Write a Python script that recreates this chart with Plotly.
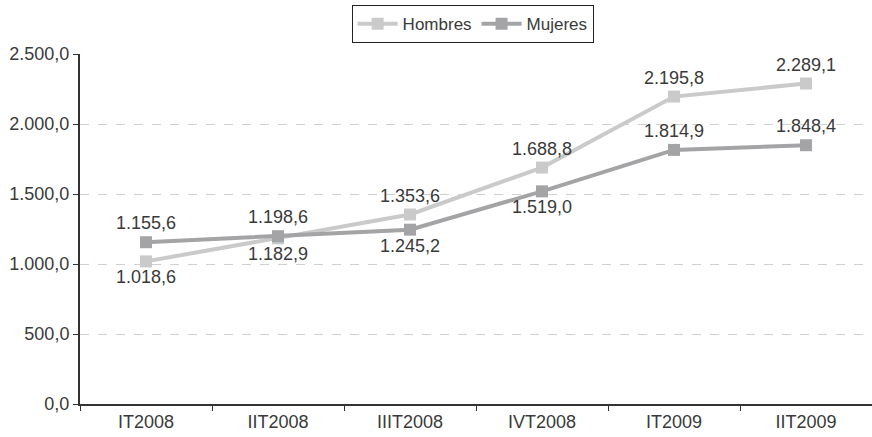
import plotly.graph_objects as go

# Quarterly periods and values per series
periods = ["IT2008", "IIT2008", "IIIT2008", "IVT2008", "IT2009", "IIT2009"]
hombres = [1018.6, 1182.9, 1353.6, 1688.8, 2195.8, 2289.1]
mujeres = [1155.6, 1198.6, 1245.2, 1519.0, 1814.9, 1848.4]

# Where each value label sits relative to its marker
hombres_pos = ["bottom center", "bottom center", "top center", "top center", "top center", "top center"]
mujeres_pos = ["top center", "top center", "bottom center", "bottom center", "top center", "top center"]

FONT = "Liberation Sans, Arial, sans-serif"
TEXT = "#3a3a3a"

fig = go.Figure()
fig.add_trace(go.Scatter(
    x=periods, y=hombres, name="Hombres", mode="lines+markers+text",
    line=dict(color="#cacaca", width=4),
    marker=dict(symbol="square", size=12, color="#cacaca"),
    texttemplate="%{y:,.1f}", textposition=hombres_pos,
    textfont=dict(size=18, color=TEXT, family=FONT),
))
fig.add_trace(go.Scatter(
    x=periods, y=mujeres, name="Mujeres", mode="lines+markers+text",
    line=dict(color="#a4a4a6", width=4),
    marker=dict(symbol="square", size=12, color="#a4a4a6"),
    texttemplate="%{y:,.1f}", textposition=mujeres_pos,
    textfont=dict(size=18, color=TEXT, family=FONT),
))

fig.update_layout(
    width=872, height=437,
    margin=dict(l=80, r=0, t=54, b=33),
    paper_bgcolor="white", plot_bgcolor="white",
    separators=",.",
    font=dict(family=FONT, size=18, color=TEXT),
    showlegend=True,
    legend=dict(
        orientation="h", x=0.542, xanchor="center", xref="container",
        y=0.988, yanchor="top", yref="container",
        bordercolor="#222222", borderwidth=1,
        font=dict(size=17, color=TEXT, family=FONT),
        itemwidth=40, tracegroupgap=0,
    ),
    xaxis=dict(
        showline=True, linecolor="#333333", linewidth=2,
        ticks="outside", tickson="boundaries", ticklen=5, tickcolor="#333333",
        showgrid=False, tickfont=dict(size=18, color=TEXT),
        range=[-0.5, 5.5],
    ),
    yaxis=dict(
        range=[0, 2500], dtick=500, tickformat=",.1f",
        showline=True, linecolor="#333333", linewidth=2,
        ticks="outside", ticklen=5, tickcolor="#333333",
        showgrid=True, gridcolor="#d0d0d0", griddash="dash", gridwidth=1,
        zeroline=False, tickfont=dict(size=18, color=TEXT),
    ),
)

fig.write_html("out.html")
